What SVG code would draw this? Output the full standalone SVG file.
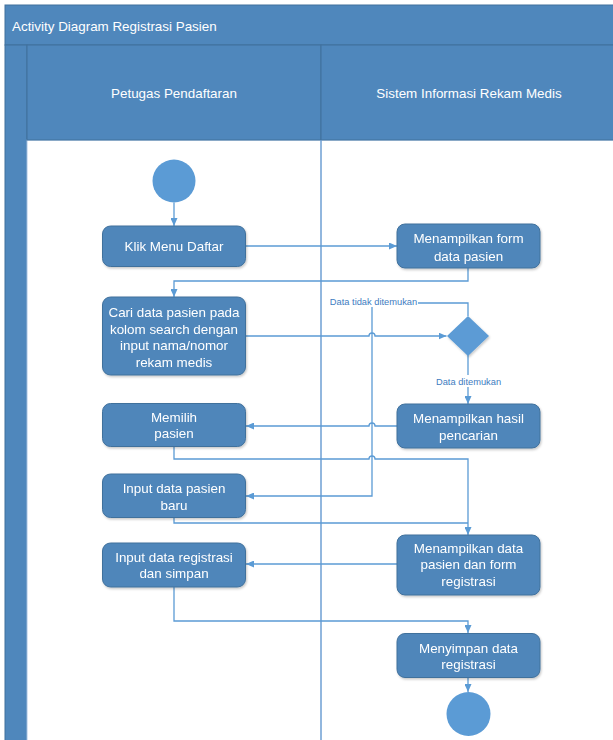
<svg xmlns="http://www.w3.org/2000/svg" width="613" height="740" viewBox="0 0 613 740">
  <style>
    .band { fill: #4F87BC; stroke: #41719C; stroke-width: 1; }
    .hdr { font-family: "Liberation Sans", Arial, sans-serif; font-size: 13.4px; fill: #FFFFFF; }
    .act rect { fill: #4F86BA; stroke: #41719C; stroke-width: 1; }
    .act text { font-family: "Liberation Sans", Arial, sans-serif; font-size: 13.4px; fill: #FFFFFF; text-anchor: middle; }
    .term { fill: #5B9BD5; }
    .conn { fill: none; stroke: #5B9BD5; stroke-width: 1.3; }
    .lbl { font-family: "Liberation Sans", Arial, sans-serif; font-size: 9.3px; fill: #3E7CBF; text-anchor: middle; }
    .lblbg { fill: #FFFFFF; }
  </style>
  <defs>
    <marker id="arrow" viewBox="0 0 8 7" refX="8" refY="3.5" markerWidth="8" markerHeight="7" markerUnits="userSpaceOnUse" orient="auto">
      <path d="M0,0 L8,3.5 L0,7 Z" fill="#5B9BD5"/>
    </marker>
    <filter id="shadow" x="-10%" y="-10%" width="125%" height="135%">
      <feDropShadow dx="1" dy="1.5" stdDeviation="1.3" flood-color="#000000" flood-opacity="0.22"/>
    </filter>
  </defs>

  <rect x="0" y="0" width="613" height="740" fill="#FFFFFF"/>

  <!-- swimlane frame -->
  <g id="frame">
    <rect class="band" x="5" y="5" width="610" height="40"/>
    <text class="hdr" x="12" y="31">Activity Diagram Registrasi Pasien</text>
    <rect class="band" x="5" y="45" width="22" height="700"/>
    <rect x="27" y="140" width="590" height="605" fill="#FFFFFF" stroke="#A9C6E8" stroke-width="1"/>
    <rect class="band" x="27" y="45" width="294" height="95"/>
    <rect class="band" x="321" y="45" width="294" height="95"/>
    <text class="hdr" x="174" y="98" text-anchor="middle">Petugas Pendaftaran</text>
    <text class="hdr" x="469" y="98" text-anchor="middle">Sistem Informasi Rekam Medis</text>
    <line x1="321" y1="140" x2="321" y2="745" stroke="#6E9FD3" stroke-width="1.5"/>
  </g>

  <!-- connectors -->
  <g id="connectors">
    <path class="conn" d="M174,202.5 V226" marker-end="url(#arrow)"/>
    <path class="conn" d="M246,246 H397" marker-end="url(#arrow)"/>
    <path class="conn" d="M468,268 V281 H174 V297" marker-end="url(#arrow)"/>
    <path class="conn" d="M246,336 H369 A3,3 0 0 1 375,336 H446.5" marker-end="url(#arrow)"/>
    <path class="conn" d="M468,355 V404" marker-end="url(#arrow)"/>
    <path class="conn" d="M468,316 V303 H372 V496 H246" marker-end="url(#arrow)"/>
    <path class="conn" d="M397,426 H375 A3,3 0 0 0 369,426 H246" marker-end="url(#arrow)"/>
    <path class="conn" d="M174,447 V459 H369 A3,3 0 0 1 375,459 H468 V535" marker-end="url(#arrow)"/>
    <path class="conn" d="M174,518 V523 H468"/>
    <path class="conn" d="M397,564 H246" marker-end="url(#arrow)"/>
    <path class="conn" d="M174,587 V621 H468 V633" marker-end="url(#arrow)"/>
    <path class="conn" d="M468,677 V692" marker-end="url(#arrow)"/>
    <!-- guard labels -->
    <rect class="lblbg" x="329" y="295" width="89" height="12"/>
    <text class="lbl" x="373.5" y="305">Data tidak ditemukan</text>
    <rect class="lblbg" x="435" y="375" width="67" height="12"/>
    <text class="lbl" x="468.5" y="384.5">Data ditemukan</text>
  </g>

  <!-- nodes -->
  <g id="start">
    <circle class="term" cx="174" cy="181" r="21.5"/>
  </g>

  <g id="klik-menu-daftar" class="act" filter="url(#shadow)">
    <rect x="102.5" y="226" width="143" height="40.5" rx="8"/>
    <text x="174" y="251">Klik Menu Daftar</text>
  </g>

  <g id="menampilkan-form" class="act" filter="url(#shadow)">
    <rect x="397" y="224" width="143" height="44" rx="8"/>
    <text x="468.5" y="243">Menampilkan form</text>
    <text x="468.5" y="261">data pasien</text>
  </g>

  <g id="cari-data-pasien" class="act" filter="url(#shadow)">
    <rect x="102.5" y="297" width="143" height="78" rx="8"/>
    <text x="174" y="317">Cari data pasien pada</text>
    <text x="174" y="334">kolom search dengan</text>
    <text x="174" y="350">input nama/nomor</text>
    <text x="174" y="367">rekam medis</text>
  </g>

  <g id="decision" filter="url(#shadow)">
    <polygon class="term" points="468,316 489,336 468,356 447,336"/>
  </g>

  <g id="menampilkan-hasil" class="act" filter="url(#shadow)">
    <rect x="397" y="404" width="143" height="44" rx="8"/>
    <text x="468.5" y="423">Menampilkan hasil</text>
    <text x="468.5" y="440">pencarian</text>
  </g>

  <g id="memilih-pasien" class="act" filter="url(#shadow)">
    <rect x="102.5" y="403.5" width="143" height="43" rx="8"/>
    <text x="174" y="422">Memilih</text>
    <text x="174" y="438">pasien</text>
  </g>

  <g id="input-pasien-baru" class="act" filter="url(#shadow)">
    <rect x="102.5" y="474" width="143" height="43.5" rx="8"/>
    <text x="174" y="493">Input data pasien</text>
    <text x="174" y="510">baru</text>
  </g>

  <g id="menampilkan-data-form" class="act" filter="url(#shadow)">
    <rect x="397" y="535" width="143" height="60" rx="8"/>
    <text x="468.5" y="552.5">Menampilkan data</text>
    <text x="468.5" y="569">pasien dan form</text>
    <text x="468.5" y="586">registrasi</text>
  </g>

  <g id="input-registrasi" class="act" filter="url(#shadow)">
    <rect x="102.5" y="543" width="143" height="44" rx="8"/>
    <text x="174" y="561.5">Input data registrasi</text>
    <text x="174" y="577.5">dan simpan</text>
  </g>

  <g id="menyimpan-registrasi" class="act" filter="url(#shadow)">
    <rect x="397" y="633.5" width="143" height="44" rx="8"/>
    <text x="468.5" y="652.5">Menyimpan data</text>
    <text x="468.5" y="669">registrasi</text>
  </g>

  <g id="end">
    <circle class="term" cx="468.5" cy="714" r="22"/>
  </g>
</svg>
